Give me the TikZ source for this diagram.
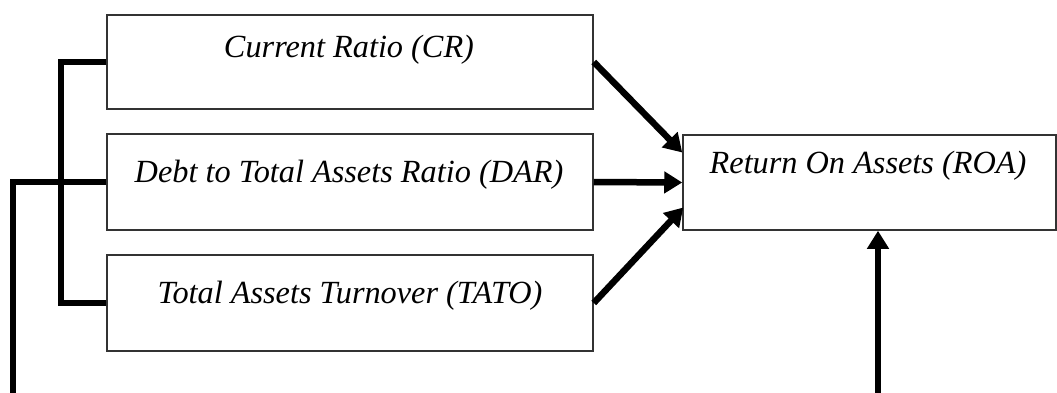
\documentclass[tikz,border=0pt]{standalone}
\usepackage{fontspec}
\setmainfont{Liberation Serif}
\usetikzlibrary{arrows.meta,calc}
\begin{document}
\begin{tikzpicture}[x=1pt,y=-1pt,
  box/.style={draw=black!80,line width=1.5pt,rectangle,inner sep=0pt},
  lbl/.style={anchor=base,inner sep=0pt,font=\fontsize{32.3}{38}\selectfont\itshape},
  thick line/.style={line width=6.5pt},
  arr/.style={line width=6.5pt,-{Triangle[length=18pt,width=21pt]}}]
\useasboundingbox (0,0) rectangle (1057,392);
\node[box,minimum width=486pt,minimum height=94pt] (b1) at (350,62) {};
\node[box,minimum width=486pt,minimum height=96pt] (b2) at (350,182) {};
\node[box,minimum width=486pt,minimum height=96pt] (b3) at (350,303) {};
\node[box,minimum width=373pt,minimum height=95pt] (roa) at (869.5,182.5) {};
\node[lbl] (t1) at (349,57) {Current Ratio (CR)};
\node[lbl] (t2) at (349,182) {Debt to Total Assets Ratio (DAR)};
\node[lbl] (t3) at (350,303) {Total Assets Turnover (TATO)};
\node[lbl] (t4) at (868,173) {Return On Assets (ROA)};
\coordinate (brk) at (61,0);
\coordinate (outer) at (13,395);
\coordinate (bot) at (878,395);
\draw[thick line] (b1.west) -- (b1.west -| brk) -- (b3.west -| brk) -- (b3.west);
\draw[thick line] (b2.west) -- (b2.west -| outer) -- (outer);
\draw[arr] (b1.east) -- ($(roa.west)+(0,-30)$);
\draw[arr] (b2.east) -- (roa.west);
\draw[arr] (b3.east) -- ($(roa.west)+(1,25)$);
\draw[arr] (bot) -- (bot |- roa.south);
\end{tikzpicture}
\end{document}
